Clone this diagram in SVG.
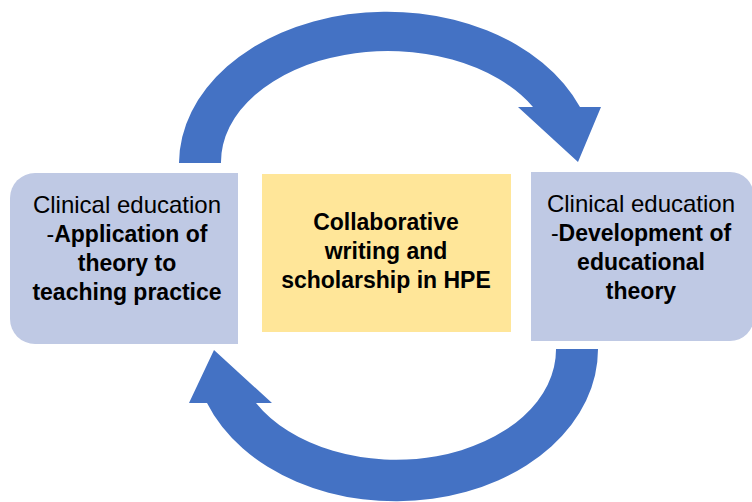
<svg xmlns="http://www.w3.org/2000/svg" width="752" height="502" viewBox="0 0 752 502">
  <style>
    .side { fill: #BFC9E4; }
    .core { fill: #FFE699; }
    .arrow { fill: #4472C4; }
    text { font-family: "Liberation Sans", Arial, sans-serif; fill: #000; text-anchor: middle; }
    .reg { font-size: 24px; font-weight: normal; }
    .bold { font-size: 23px; font-weight: bold; }
  </style>

  <!-- circular flow arrows -->
  <g id="connectors">
    <path class="arrow" d="M 179 163 A 208 152 0 0 1 580 107 L 601 107 L 578 162 L 518 107 L 533 107 A 167 111 0 0 0 221 163 Z"/>
    <path class="arrow" d="M 598 349 A 202 152 0 0 1 207 403 L 189 403 L 214 350 L 272 403 L 256 403 A 160 110 0 0 0 556 349 Z"/>
  </g>

  <!-- left: application of theory -->
  <g id="node-application">
    <path class="side" d="M 35 173 L 238 173 L 238 344 L 35 344 A 25 25 0 0 1 10 319 L 10 198 A 25 25 0 0 1 35 173 Z"/>
    <text x="127" y="213" class="reg">Clinical education</text>
    <text x="127" y="242" class="bold"><tspan font-weight="normal">-</tspan>Application of</text>
    <text x="127" y="271" class="bold">theory to</text>
    <text x="127" y="300" class="bold">teaching practice</text>
  </g>

  <!-- centre: collaborative writing -->
  <g id="node-collaborative">
    <rect class="core" x="262" y="174" width="249" height="158"/>
    <text x="386" y="230" class="bold">Collaborative</text>
    <text x="386" y="259" class="bold">writing and</text>
    <text x="386" y="288" class="bold">scholarship in HPE</text>
  </g>

  <!-- right: development of theory -->
  <g id="node-development">
    <path class="side" d="M 531 172 L 730 172 A 24 24 0 0 1 754 196 L 754 317 A 24 24 0 0 1 730 341 L 531 341 Z"/>
    <text x="641" y="212" class="reg">Clinical education</text>
    <text x="641" y="241" class="bold"><tspan font-weight="normal">-</tspan>Development of</text>
    <text x="641" y="270" class="bold">educational</text>
    <text x="641" y="299" class="bold">theory</text>
  </g>
</svg>
